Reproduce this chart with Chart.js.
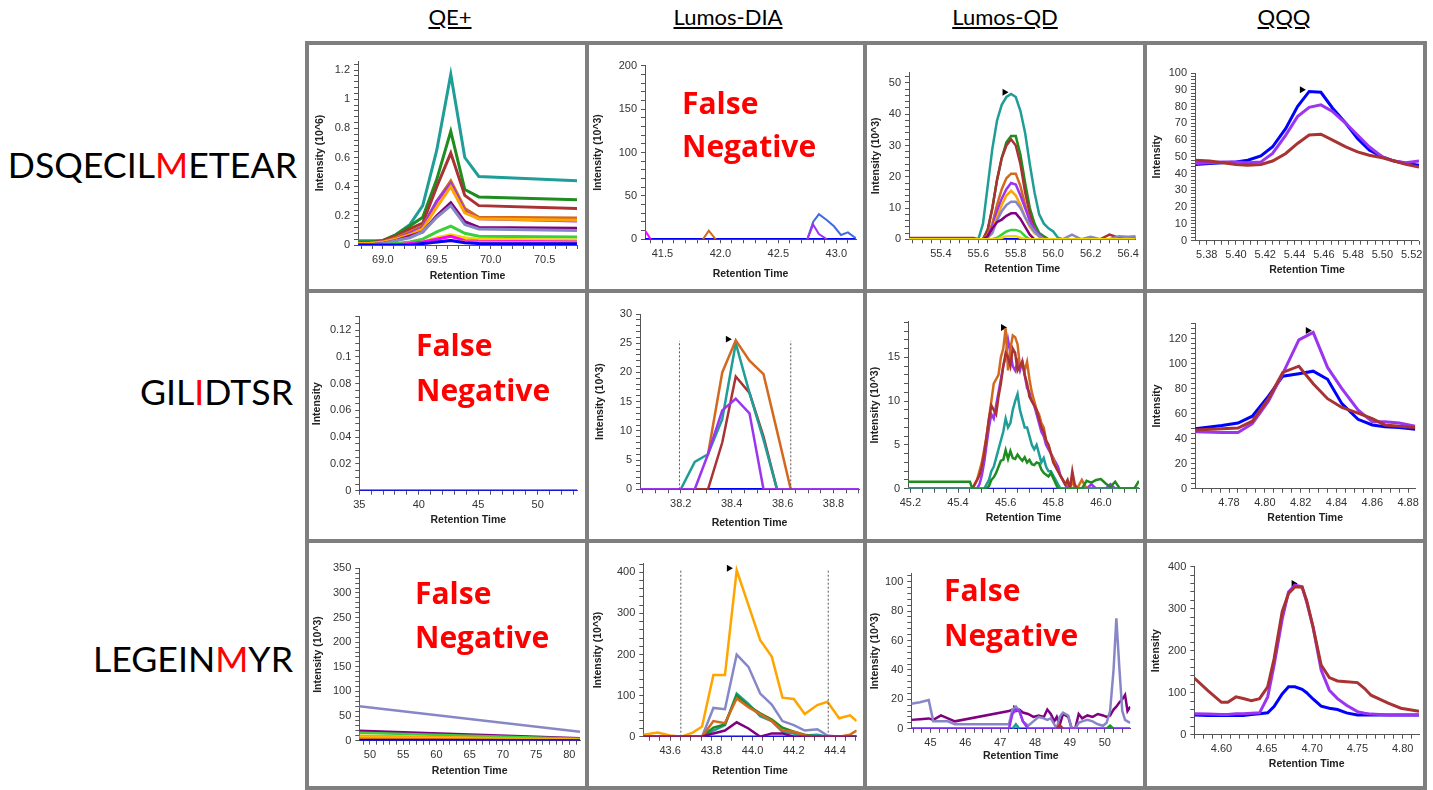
<!DOCTYPE html>
<html>
<head>
<meta charset="utf-8">
<script src="https://cdn.jsdelivr.net/npm/chart.js@4.4.1/dist/chart.umd.min.js"></script>
<style>
body { margin:0; background:#fff; width:1433px; height:790px; position:relative; overflow:hidden; font-family:Lato, sans-serif; }
.gl { position:absolute; background:#7f7f7f; }
.hd { position:absolute; top:6px; font-size:22px; line-height:1; text-decoration:underline; transform:translateX(-50%); white-space:nowrap; color:#000; }
.rl { position:absolute; font-size:35.7px; line-height:1; white-space:nowrap; transform:translateX(-100%); color:#000; }
.red { color:#f00; }
.fn { position:absolute; font-family:"Open Sans", sans-serif; font-weight:700; font-size:30px; line-height:1; color:#f00; white-space:nowrap; }
canvas { position:absolute; }
</style>
</head>
<body>
<div class="hd" style="left:450px">QE+</div>
<div class="hd" style="left:728px">Lumos-DIA</div>
<div class="hd" style="left:1005px">Lumos-QD</div>
<div class="hd" style="left:1284px">QQQ</div>
<div class="rl" style="left:297px;top:147px">DSQECIL<span class="red">M</span>ETEAR</div>
<div class="rl" style="left:293px;top:374px">GIL<span class="red">I</span>DTSR</div>
<div class="rl" style="left:293px;top:641px">LEGEIN<span class="red">M</span>YR</div>
<script>
// colours used by the chromatogram traces
const TEAL = '#1f9d97', GREEN = '#1e8c1e', BROWN = '#a93232', CHOC = '#d2691e', ORANGE = '#ffa500';
const VIOLET = '#9b35f0', PURPLE = '#800080', LAV = '#8787c8', LIME = '#3ccf3c', YELLOW = '#f2d600';
const MAGENTA = '#ff00ff', BLUE = '#0000ff', ROYAL = '#4169e1', CORAL = '#ff7f50';

// ---- QE+ / DSQECILMETEAR (10^6)
const qe1Time   = [68.77, 68.87, 69.00, 69.12, 69.25, 69.37, 69.50, 69.63, 69.76, 69.89, 70.80];
const qe1Teal   = [0.03, 0.03, 0.03, 0.07, 0.14, 0.27, 0.65, 1.17, 0.60, 0.47, 0.44];
const qe1Green  = [0.02, 0.02, 0.03, 0.07, 0.13, 0.19, 0.45, 0.78, 0.38, 0.33, 0.31];
const qe1Brown  = [0.01, 0.01, 0.03, 0.06, 0.11, 0.15, 0.40, 0.63, 0.34, 0.27, 0.25];
const qe1Choc   = [0.01, 0.01, 0.02, 0.05, 0.09, 0.13, 0.30, 0.44, 0.25, 0.19, 0.185];
const qe1Orange = [0.01, 0.01, 0.02, 0.04, 0.07, 0.11, 0.26, 0.40, 0.22, 0.18, 0.17];
const qe1Violet = [0.01, 0.01, 0.02, 0.04, 0.08, 0.12, 0.30, 0.42, 0.23, 0.18, 0.165];
const qe1Purple = [0.0, 0.0, 0.01, 0.03, 0.06, 0.09, 0.20, 0.29, 0.16, 0.12, 0.115];
const qe1Lav    = [0.0, 0.0, 0.01, 0.03, 0.05, 0.09, 0.19, 0.27, 0.14, 0.11, 0.10];
const qe1Lime   = [0, 0, 0, 0.01, 0.02, 0.04, 0.09, 0.13, 0.08, 0.06, 0.055];
const qe1Yellow = [0, 0, 0, 0, 0.01, 0.02, 0.05, 0.07, 0.05, 0.04, 0.035];
const qe1Magenta= [0, 0, 0, 0, 0.01, 0.02, 0.04, 0.06, 0.03, 0.025, 0.02];
const qe1Coral  = [0, 0, 0, 0, 0, 0.01, 0.02, 0.03, 0.02, 0.02, 0.015];
const qe1Blue   = [0, 0, 0, 0, 0, 0.01, 0.02, 0.03, 0.015, 0.01, 0.008];
const qe1XTicks = ['69.0', '69.5', '70.0', '70.5'];
const qe1YTicks = ['0', '0.2', '0.4', '0.6', '0.8', '1', '1.2'];

// ---- Lumos-DIA / DSQECILMETEAR (10^3)
const dia1Time    = [41.35, 41.40, 41.85, 41.90, 41.96, 42.75, 42.80, 42.85, 42.92, 42.98, 43.04, 43.10, 43.16, 43.17];
const dia1Magenta = [10, 0, null, null, null, null, null, null, null, null, null, null, null, null];
const dia1Choc    = [null, null, 0, 10, 0, null, null, null, null, null, null, null, null, null];
const dia1Violet  = [null, null, null, null, null, 0, 17, 6, 0, null, null, null, null, null];
const dia1Royal   = [null, null, null, null, null, 0, 20, 29, 22, 15, 5, 8, 2, 1];
const dia1Base    = [0, 0, 0, 0, 0, 0, 0, 0, 0, 0, 0, 0, 0, 0];
const dia1XTicks  = ['41.5', '42.0', '42.5', '43.0'];
const dia1YTicks  = ['0', '50', '100', '150', '200'];

// ---- Lumos-QD / DSQECILMETEAR (10^3)
const qd1Time   = [55.23, 55.575, 55.60, 55.625, 55.65, 55.675, 55.70, 55.725, 55.75, 55.775, 55.80, 55.825, 55.85, 55.875, 55.90, 55.925, 55.95, 55.975, 56.00, 56.025, 56.05, 56.10, 56.15, 56.20, 56.25, 56.30, 56.35, 56.40, 56.44];
const qd1Teal   = [0, 0, 0, 5, 17, 29, 38, 43, 45.5, 46.5, 45.5, 41, 34, 24, 15, 8, 5, 3.5, 2.5, 0.5, 0, 0, 0, 0, 0, 0, 0, 0, 0];
const qd1Green  = [0, 0, 0, 0, 3, 10, 19, 26, 31, 33, 33, 27, 18, 10, 5, 2, 1, 0, 0, 0, 0, 0, 0, 0, 0, 0, 0, 0, 0.8];
const qd1Brown  = [0.4, 0.4, 0, 0, 3, 10, 19, 26, 30, 32, 30, 24, 15, 8, 3, 1, 0, 0, 0, 0, 0, 0, 0, 0, 0, 1.5, 0.5, 0, 0];
const qd1Choc   = [0, 0, 0, 0, 1.5, 5, 11, 16, 19.5, 21, 21, 17, 11, 6, 3, 1, 0, 0, 0, 0, 0, 0, 0, 0, 0, 0, 0, 0, 0];
const qd1Violet = [0, 0, 0, 0, 1, 4, 9, 13, 16, 18, 17.5, 14, 10, 6, 3, 1.5, 0, 0, 0, 0, 0, 0, 0, 0, 0, 0, 0, 0, 0];
const qd1Orange = [0, 0, 0, 0, 1, 3, 7, 11, 14, 15.5, 14, 11, 7, 4, 2, 1, 0, 0, 0, 0, 0, 0, 0, 0, 0, 0, 0, 0, 0];
const qd1Lav    = [0, 0, 0, 0, 0.5, 2, 6, 9, 11, 12, 12, 10, 7, 4.5, 2.5, 1, 0, 0, 0, 0, 0, 1.5, 0, 0.8, 0, 0, 1, 0.8, 1];
const qd1Purple = [0, 0, 0, 0, 1, 3.5, 5.5, 6.3, 7.5, 8.3, 8.3, 6.5, 4, 1.5, 0, 0, 0, 0, 0, 0, 0, 0, 0, 0, 0, 0, 0, 0, 0];
const qd1Lime   = [0, 0, 0, 0, 0, 0, 0.5, 1.5, 2.5, 3, 3, 2.5, 1, 0, 0, 0, 0, 0, 0, 0, 0, 0, 0, 0, 0, 0, 0, 0, 0];
const qd1Yellow = [0, 0, 0, 0, 0, 0, 0, 0.5, 1, 1, 1, 0.5, 0, 0, 0, 0, 0, 0, 0, 0, 0, 0, 0, 0, 0, 0, 0, 0, 0];
const qd1BaseTime = [55.23, 56.44];
const qd1Base   = [0, 0];
const qd1Peak   = [55.74, 47];
const qd1XTicks = ['55.4', '55.6', '55.8', '56.0', '56.2', '56.4'];
const qd1YTicks = ['0', '10', '20', '30', '40', '50'];

// ---- QQQ / DSQECILMETEAR
const qqq1Time   = [5.372, 5.382, 5.391, 5.400, 5.408, 5.417, 5.425, 5.434, 5.442, 5.450, 5.458, 5.466, 5.475, 5.483, 5.491, 5.500, 5.508, 5.516, 5.525];
const qqq1Blue   = [45.5, 46, 46.5, 47, 48, 50.5, 56, 67, 80, 89, 88.5, 79, 70, 61, 54, 50, 47.5, 46, 45];
const qqq1Violet = [46, 46.5, 47, 47, 46.5, 47, 52, 63, 74, 79.5, 81, 77, 70, 63, 56, 50, 47.5, 46.5, 47.5];
const qqq1Brown  = [48, 47.5, 46.5, 45.5, 45, 45.5, 47.5, 52, 58, 63, 63.5, 60, 56, 53, 51, 49.5, 47.5, 45.5, 44];
const qqq1Peak   = [5.445, 90];
const qqq1XTicks = ['5.38', '5.40', '5.42', '5.44', '5.46', '5.48', '5.50', '5.52'];
const qqq1YTicks = ['0', '10', '20', '30', '40', '50', '60', '70', '80', '90', '100'];

// ---- QE+ / GILIDTSR
const qe2Time   = [35, 53.33];
const qe2Blue   = [0, 0];
const qe2XTicks = ['35', '40', '45', '50'];
const qe2YTicks = ['0', '0.02', '0.04', '0.06', '0.08', '0.1', '0.12'];

// ---- Lumos-DIA / GILIDTSR (10^3)
const dia2Time   = [38.04, 38.20, 38.255, 38.307, 38.363, 38.416, 38.47, 38.525, 38.578, 38.632, 38.90];
const dia2Teal   = [0, 0, 4.7, 6, 12, 25, 16.5, 8.5, 0, 0, 0];
const dia2Brown  = [0, 0, 0, 0, 8, 19.3, 16.5, 9, 0, 0, 0];
const dia2Choc   = [null, null, null, 6, 20, 25.5, 22, 19.7, 10, 0, 0];
const dia2Violet = [0, 0, 0, 6, 13.5, 15.5, 13, 0, 0, 0, 0];
const dia2Base   = [0, 0, 0, 0, 0, 0, 0, 0, 0, 0, 0];
const dia2Bounds = [38.195, 38.632];
const dia2BoundY = [0, 25.4];
const dia2Peak   = [38.385, 25.7];
const dia2XTicks = ['38.2', '38.4', '38.6', '38.8'];
const dia2YTicks = ['0', '5', '10', '15', '20', '25', '30'];

// ---- Lumos-QD / GILIDTSR (10^3)
const qd2Time = [45.19, 45.45, 45.46, 45.47, 45.48, 45.49, 45.50, 45.51, 45.52, 45.53, 45.54, 45.55, 45.56, 45.57, 45.58, 45.59, 45.60, 45.61, 45.62, 45.63,
                 45.64, 45.65, 45.66, 45.67, 45.68, 45.69, 45.70, 45.71, 45.72, 45.73, 45.74, 45.75, 45.76, 45.77, 45.78, 45.79, 45.80, 45.81, 45.82, 45.83,
                 45.84, 45.85, 45.86, 45.87, 45.88, 45.89, 45.90, 45.92, 45.94, 45.96, 45.98, 46.00, 46.02, 46.04, 46.06, 46.08, 46.10, 46.12, 46.14, 46.16];
const qd2Choc   = [0, 0, 0, 0.5, 1, 2, 3, 4.5, 6, 8, 10, 12, 12.5, 13, 15, 16, 18.3, 13.5, 16, 17.5,
                   17.3, 16.5, 14, 14.5, 13.5, 14.5, 12.5, 11, 10, 9, 8.5, 7.5, 7, 5.5, 5, 4, 3.5, 2.5, 2, 1.5,
                   1, 0.5, 0.5, 0, 1, 0, 0, 1, 0, 0, 0, 0, 0, 0, 0, 0, 0, 0, 0, 0];
const qd2Brown  = [0, 0, 0, 0.5, 1, 1.5, 2.5, 4, 6, 8, 9.5, 9, 8.5, 10.5, 12, 14, 15.5, 15, 14, 16,
                   15.5, 13.5, 14, 14.5, 13, 12, 10.5, 10, 9.5, 9, 8, 7, 6.5, 5.5, 5, 4, 3, 2.5, 2, 1.5,
                   1, 0.5, 1, 0, 2, 0.5, 0, 0, 0, 0, 0, 0, 0, 0, 0, 0, 0, 0, 0, 0];
const qd2Violet = [0, 0, 0, 0, 0, 0.5, 1.5, 3, 5, 7, 8.5, 8, 9.5, 11, 12.5, 14, 15, 17, 15.5, 14,
                   13.5, 14.5, 13.5, 14.5, 13, 11.5, 11, 10, 9.5, 8.5, 7.5, 6.5, 6, 5, 4.5, 4, 3.5, 3, 2.5, 1.5,
                   1, 0.5, 0, 0, 0, 0, 0, 0, 0, 0.5, 0, 0, 0, 0.5, 0, 0, 0, 0, 0, 0];
const qd2Teal   = [0, 0, 0, 0, 0, 0, 0, 0, 0.5, 1, 2, 2.5, 3.5, 4.5, 5.5, 6.5, 8, 7, 7.5, 9,
                   10, 10.8, 9, 8, 7, 7, 6, 5, 4.5, 5, 4, 3, 3.5, 2.5, 2, 2, 1.5, 1, 0.5, 0,
                   0, 0, 0, 0, 0, 0, 0, 0, 0, 0, 0, 0, 0, 0, 0, 0, 0, 0, 0, 0];
const qd2Green  = [0.8, 0.8, 0, 0, 0, 0, 0, 0, 0, 0.3, 1, 1.3, 1.8, 2.5, 3.2, 3.3, 4.4, 3.4, 4.3, 3.5,
                   3.4, 3.9, 3.5, 3.2, 3.6, 3.0, 3.3, 2.8, 2.7, 3.0, 2.9, 2.2, 1.8, 1.6, 1.4, 1.8, 1.2, 0.6, 0, 0,
                   0, 0, 0, 0, 0, 0, 0, 0, 0.9, 0.7, 1.0, 1.1, 0.6, 0.2, 0.8, 0, 0, 0, 0, 0.9];
const qd2BaseTime = [45.19, 46.16];
const qd2Base   = [0, 0];
const qd2Peak   = [45.589, 18.4];
const qd2XTicks = ['45.2', '45.4', '45.6', '45.8', '46.0'];
const qd2YTicks = ['0', '5', '10', '15'];

// ---- QQQ / GILIDTSR
const qqq2Time   = [4.761, 4.776, 4.785, 4.793, 4.802, 4.810, 4.819, 4.827, 4.835, 4.843, 4.852, 4.860, 4.867, 4.875, 4.884];
const qqq2Blue   = [48, 50.5, 52.5, 58, 74, 90, 92, 94, 87.5, 68, 55.5, 51, 49.5, 49, 47.5];
const qqq2Violet = [45.5, 45, 45, 52, 70, 92, 119, 125, 97, 80, 63, 53.5, 53.5, 52.5, 50];
const qqq2Brown  = [47, 48, 48.5, 54, 72, 93, 98, 84, 72, 65, 60.5, 56, 51, 50, 49];
const qqq2Peak   = [4.824, 126.5];
const qqq2XTicks = ['4.78', '4.80', '4.82', '4.84', '4.86', '4.88'];
const qqq2YTicks = ['0', '20', '40', '60', '80', '100', '120'];

// ---- QE+ / LEGEINMYR (10^3)
const qe3Time   = [48.4, 81.6];
const qe3Lav    = [70, 18];
const qe3Purple = [20, 5];
const qe3Lime   = [16, 4];
const qe3Orange = [10, 2.5];
const qe3Yellow = [6, 1.5];
const qe3Choc   = [4, 1];
const qe3Blue   = [1, 0.5];
const qe3XTicks = ['50', '55', '60', '65', '70', '75', '80'];
const qe3YTicks = ['0', '50', '100', '150', '200', '250', '300', '350'];

// ---- Lumos-DIA / LEGEINMYR (10^3)
const dia3Time   = [43.47, 43.54, 43.60, 43.655, 43.71, 43.755, 43.81, 43.866, 43.923, 43.98, 44.037, 44.093, 44.145, 44.20, 44.253, 44.314, 44.363, 44.42, 44.473, 44.505];
const dia3Orange = [5, 10, 3, 0, 10, 25, 150, 150, 405, 320, 235, 195, 95, 92, 55, 77, 85, 45, 52, 38];
const dia3Lav    = [0, 0, 0, 0, 0, 0, 70, 67, 200, 170, 105, 78, 38, 28, 15, 18, 3, 0, 0, 0];
const dia3Teal   = [0, 0, 0, 0, 0, 0, 15, 28, 105, 80, 50, 38, 12, 8, 3, 5, 0, 0, 0, 0];
const dia3Green  = [0, 0, 0, 0, 0, 0, 22, 30, 100, 75, 57, 42, 22, 12, 5, 0, 0, 0, 0, 0];
const dia3Choc   = [0, 0, 0, 0, 0, 0, 38, 33, 93, 72, 55, 38, 15, 12, 3, 0, 0, 0, 5, 15];
const dia3Purple = [0, 0, 0, 0, 0, 0, 8, 15, 35, 20, 0, 8, 8, 0, 0, 0, 0, 0, 0, 0];
const dia3BaseTime = [43.47, 44.505];
const dia3Base   = [0, 0];
const dia3Bounds = [43.652, 44.367];
const dia3BoundY = [0, 405];
const dia3Peak   = [43.885, 410];
const dia3XTicks = ['43.6', '43.8', '44.0', '44.2', '44.4'];
const dia3YTicks = ['0', '100', '200', '300', '400'];

// ---- Lumos-QD / LEGEINMYR (10^3)
const qd3Time   = [44.45, 44.70, 44.95, 45.08, 45.30, 45.50, 45.70, 47.25, 47.35, 47.45, 47.55, 47.65, 47.80, 47.95, 48.10, 48.25, 48.35, 48.45, 48.55, 48.62,
                   48.70, 48.80, 48.95, 49.05, 49.15, 49.25, 49.35, 49.50, 49.65, 49.80, 49.95, 50.05, 50.15, 50.25, 50.33, 50.42, 50.50, 50.58, 50.65, 50.73];
const qd3Lav    = [17, 18, 19.5, 5, 5, 5, 3, 3, 13, 15, 12, 5, 2, 5, 8, 7, 6, 7, 3, 0,
                   8, 11, 9, 0, 0, 4, 5, 6, 5, 3, 2, 4, 12, 40, 75, 40, 12, 6, 5, 4];
const qd3Purple = [6, 6.5, 7, 6, 9, 7, 5, 12, 13, 12, 13, 11, 10, 8, 9, 8, 13, 10, 5, 8,
                   2, 10, 8, 0, 0, 10, 7, 9, 8, 10, 9, 8, 9, 13, 15, 18, 20, 23, 12, 15];
const qd3Violet = [0, 0, 0, 0, 0, 0, 0, 0, 10, 13, 12, 5, 0, 0, 0, 0, 0, 0, 0, 0,
                   0, 0, 0, 0, 0, 0, 0, 0, 0, 0, 0, 0, 0, 0, 0, 0, 0, 0, 0, 0];
const qd3BumpTime = [47.35, 47.45, 47.55, 48.62, 48.70, 48.80, 50.05, 50.15, 50.25];
const qd3Teal   = [0, 3, 0, null, null, null, null, null, null];
const qd3Brown  = [null, null, null, 0, 2.5, 0, null, null, null];
const qd3Green  = [null, null, null, null, null, null, 0, 2, 0];
const qd3BaseTime = [44.45, 50.73];
const qd3Base   = [0, 0];
const qd3Peak   = [47.43, 13.8];
const qd3XTicks = ['45', '46', '47', '48', '49', '50'];
const qd3YTicks = ['0', '20', '40', '60', '80', '100'];

// ---- QQQ / LEGEINMYR
const qqq3Time   = [4.570, 4.585, 4.600, 4.607, 4.616, 4.624, 4.633, 4.642, 4.651, 4.658, 4.667, 4.674, 4.681, 4.689, 4.694, 4.701, 4.710, 4.719, 4.728, 4.738, 4.750, 4.758, 4.765, 4.784, 4.798, 4.818];
const qqq3Brown  = [135, 105, 77, 77, 90, 86, 81, 86, 114, 180, 293, 336, 352, 351, 320, 257, 166, 136, 128, 126, 124, 110, 94, 75, 63, 56];
const qqq3Violet = [50, 49, 48, 48, 50, 50, 51, 52, 90, 165, 275, 340, 356, 352, 316, 257, 154, 106, 86, 70, 55, 51, 49, 47, 47, 47];
const qqq3Blue   = [47, 46, 46, 46, 46, 46, 48, 50, 52, 67, 97, 114, 114, 108, 100, 85, 68, 63, 60, 52, 47, 47, 47, 47, 47, 47];
const qqq3Peak   = [4.6796, 360];
const qqq3XTicks = ['4.60', '4.65', '4.70', '4.75', '4.80'];
const qqq3YTicks = ['0', '100', '200', '300', '400'];

// grid of the figure (page pixels)
const gridX = [307, 587, 865, 1145, 1425];
const gridY = [43, 291, 541, 788];

function s(t, v, color, w, dash) { return { t: t, v: v, color: color, w: w, dash: dash }; }
function bounds(xsList, yPair) { return xsList.map(b => s([b, b], yPair, '#555', 1, [2, 2])); }

const I3 = 'Intensity (10^3)';
const panels = [
  { c: 0, r: 0, box: [358, 577, 61, 245], x: [68.77, 70.8], yMax: 1.262, xt: qe1XTicks, yt: qe1YTicks, xn: 5, yn: 5, title: 'Intensity (10^6)', ytx: 320, xty: 276,
    lines: [s(qe1Time, qe1Blue, BLUE, 3), s(qe1Time, qe1Coral, CORAL, 3), s(qe1Time, qe1Magenta, MAGENTA, 3), s(qe1Time, qe1Yellow, YELLOW, 3), s(qe1Time, qe1Lime, LIME, 3),
            s(qe1Time, qe1Lav, LAV, 3), s(qe1Time, qe1Purple, PURPLE, 3), s(qe1Time, qe1Orange, ORANGE, 3), s(qe1Time, qe1Violet, VIOLET, 3), s(qe1Time, qe1Choc, CHOC, 3),
            s(qe1Time, qe1Brown, BROWN, 3), s(qe1Time, qe1Green, GREEN, 3), s(qe1Time, qe1Teal, TEAL, 3)] },
  { c: 1, r: 0, box: [645, 856, 65.7, 239.3], x: [41.35, 43.17], yMax: 200, xt: dia1XTicks, yt: dia1YTicks, xn: 5, yn: 5, title: I3, ytx: 598, xty: 274,
    lines: [s(dia1Time, dia1Magenta, MAGENTA, 2), s(dia1Time, dia1Choc, CHOC, 2), s(dia1Time, dia1Violet, VIOLET, 2), s(dia1Time, dia1Royal, ROYAL, 2), s(dia1Time, dia1Base, BLUE, 2.5)] },
  { c: 2, r: 0, box: [909, 1141, 72.3, 239.3], x: [55.23, 56.44], yMax: 53.4, xt: qd1XTicks, yt: qd1YTicks, xn: 4, yn: 5, title: I3, ytx: 876, xty: 268.7, peak: qd1Peak,
    lines: [s(qd1Time, qd1Yellow, YELLOW, 2.5), s(qd1Time, qd1Lime, LIME, 2.5), s(qd1Time, qd1Purple, PURPLE, 2.5), s(qd1Time, qd1Lav, LAV, 2.5), s(qd1Time, qd1Orange, ORANGE, 2.5),
            s(qd1Time, qd1Violet, VIOLET, 2.5), s(qd1Time, qd1Choc, CHOC, 2.5), s(qd1Time, qd1Brown, BROWN, 2.5), s(qd1Time, qd1Green, GREEN, 2.5), s(qd1Time, qd1Teal, TEAL, 2.5),
            s(qd1BaseTime, qd1Base, BLUE, 2.5)] },
  { c: 3, r: 0, box: [1195, 1419, 73, 240.7], x: [5.372, 5.525], yMax: 100, xt: qqq1XTicks, yt: qqq1YTicks, xn: 4, yn: 5, title: 'Intensity', ytx: 1156.7, xty: 270.3, peak: qqq1Peak,
    lines: [s(qqq1Time, qqq1Brown, BROWN, 3), s(qqq1Time, qqq1Violet, VIOLET, 3), s(qqq1Time, qqq1Blue, BLUE, 3)] },

  { c: 0, r: 1, box: [359.3, 577.3, 316.7, 490.7], x: [35, 53.33], yMax: 0.13, xt: qe2XTicks, yt: qe2YTicks, xn: 5, yn: 4, title: 'Intensity', ytx: 316.7, xty: 520,
    lines: [s(qe2Time, qe2Blue, BLUE, 2.5)] },
  { c: 1, r: 1, box: [640, 860, 314, 489.3], x: [38.04, 38.9], yMax: 30, xt: dia2XTicks, yt: dia2YTicks, xn: 4, yn: 5, title: I3, ytx: 600, xty: 523.3, peak: dia2Peak,
    lines: bounds(dia2Bounds, dia2BoundY).concat([s(dia2Time, dia2Violet, VIOLET, 2.5), s(dia2Time, dia2Choc, CHOC, 2.5), s(dia2Time, dia2Teal, TEAL, 2.5), s(dia2Time, dia2Brown, BROWN, 2.5),
            s(dia2Time, dia2Base, BLUE, 2.5)]) },
  { c: 2, r: 1, box: [908, 1140.3, 321.7, 488.7], x: [45.19, 46.16], yMax: 19.07, xt: qd2XTicks, yt: qd2YTicks, xn: 4, yn: 5, title: I3, ytx: 875, xty: 517.7, peak: qd2Peak,
    lines: [s(qd2Time, qd2Green, GREEN, 2.5), s(qd2Time, qd2Teal, TEAL, 2.5), s(qd2Time, qd2Brown, BROWN, 2.5), s(qd2Time, qd2Choc, CHOC, 2.5), s(qd2Time, qd2Violet, VIOLET, 2.5),
            s(qd2BaseTime, qd2Base, BLUE, 2)] },
  { c: 3, r: 1, box: [1195, 1418.3, 323.3, 488.7], x: [4.761, 4.884], yMax: 132.3, xt: qqq2XTicks, yt: qqq2YTicks, xn: 4, yn: 5, title: 'Intensity', ytx: 1156.7, xty: 517.7, peak: qqq2Peak,
    lines: [s(qqq2Time, qqq2Brown, BROWN, 3), s(qqq2Time, qqq2Violet, VIOLET, 3), s(qqq2Time, qqq2Blue, BLUE, 3)] },

  { c: 0, r: 2, box: [359.3, 580, 568.3, 740.7], x: [48.4, 81.6], yMax: 350, xt: qe3XTicks, yt: qe3YTicks, xn: 5, yn: 5, title: I3, ytx: 318.3, xty: 770.7,
    lines: [s(qe3Time, qe3Blue, BLUE, 2.5), s(qe3Time, qe3Choc, CHOC, 2.5), s(qe3Time, qe3Yellow, YELLOW, 2.5), s(qe3Time, qe3Orange, ORANGE, 2.5), s(qe3Time, qe3Lime, LIME, 2.5),
            s(qe3Time, qe3Purple, PURPLE, 2.5), s(qe3Time, qe3Lav, LAV, 2.5)] },
  { c: 1, r: 2, box: [643.3, 856.7, 563.3, 736.7], x: [43.47, 44.505], yMax: 422, xt: dia3XTicks, yt: dia3YTicks, xn: 4, yn: 5, title: I3, ytx: 598.3, xty: 770.7, peak: dia3Peak,
    lines: bounds(dia3Bounds, dia3BoundY).concat([s(dia3Time, dia3Purple, PURPLE, 2.5), s(dia3Time, dia3Choc, CHOC, 2.5), s(dia3Time, dia3Green, GREEN, 2.5), s(dia3Time, dia3Teal, TEAL, 2.5),
            s(dia3Time, dia3Lav, LAV, 2.5), s(dia3Time, dia3Orange, ORANGE, 2.5), s(dia3BaseTime, dia3Base, BLUE, 2.5)]) },
  { c: 2, r: 2, box: [911.3, 1130.3, 573.3, 728.7], x: [44.45, 50.73], yMax: 105.7, xt: qd3XTicks, yt: qd3YTicks, xn: 4, yn: 5, title: I3, ytx: 875.3, xty: 755.7, peak: qd3Peak,
    lines: [s(qd3BumpTime, qd3Green, '#10a010', 2.5), s(qd3BumpTime, qd3Brown, BROWN, 2.5), s(qd3BumpTime, qd3Teal, TEAL, 2.5), s(qd3Time, qd3Violet, VIOLET, 2.5),
            s(qd3Time, qd3Lav, LAV, 2.5), s(qd3Time, qd3Purple, PURPLE, 2.5), s(qd3BaseTime, qd3Base, BLUE, 2.5)] },
  { c: 3, r: 2, box: [1194.3, 1420, 566.7, 734.7], x: [4.57, 4.818], yMax: 400, xt: qqq3XTicks, yt: qqq3YTicks, xn: 5, yn: 5, title: 'Intensity', ytx: 1156, xty: 764, peak: qqq3Peak,
    lines: [s(qqq3Time, qqq3Brown, BROWN, 3), s(qqq3Time, qqq3Violet, VIOLET, 3), s(qqq3Time, qqq3Blue, BLUE, 3)] }
];

// "False Negative" notes: [left, cap top of line 1, cap top of line 2]
const notes = [[682, 93, 136.3], [416, 335, 380], [415, 582.7, 627.3], [944, 580, 625]];

Chart.defaults.font.family = '"Liberation Sans", Arial, sans-serif';

// grid lines
for (let i = 0; i < gridX.length; i++) {
  const d = document.createElement('div');
  d.className = 'gl';
  d.style.cssText = 'left:' + (gridX[i] - 2) + 'px;top:' + (gridY[0] - 2) + 'px;width:4px;height:' + (gridY[3] - gridY[0] + 4) + 'px';
  document.body.appendChild(d);
}
for (let j = 0; j < gridY.length; j++) {
  const d = document.createElement('div');
  d.className = 'gl';
  d.style.cssText = 'left:' + (gridX[0] - 2) + 'px;top:' + (gridY[j] - 2) + 'px;height:4px;width:' + (gridX[4] - gridX[0] + 4) + 'px';
  document.body.appendChild(d);
}

// majors come from the label arrays, minors split each interval
function tickList(labels, n, lo, hi) {
  const maj = labels.map(Number);
  const step = (maj[1] - maj[0]) / n;
  const out = [];
  const k0 = Math.ceil((lo - maj[0]) / step - 1e-6);
  const k1 = Math.floor((hi - maj[0]) / step + 1e-6);
  for (let k = k0; k <= k1; k++) out.push({ value: maj[0] + k * step });
  return out;
}
function labelFor(labels) {
  const maj = labels.map(Number);
  const eps = Math.abs(maj[1] - maj[0]) * 1e-3;
  return function (v) {
    const i = maj.findIndex(m => Math.abs(m - v) < eps);
    return i >= 0 ? labels[i] : '';
  };
}

const TICKFONT = { size: 11 };
const TITLEFONT = { size: 10.5, weight: 'bold' };

panels.forEach(function (p) {
  const cx0 = gridX[p.c] + 2, cx1 = gridX[p.c + 1] - 2;
  const cy0 = gridY[p.r] + 2, cy1 = gridY[p.r + 1] - 2;
  const L = p.box[0], R = p.box[1], T = p.box[2], B = p.box[3];
  const cv = document.createElement('canvas');
  cv.width = cx1 - cx0;
  cv.height = cy1 - cy0;
  cv.style.left = cx0 + 'px';
  cv.style.top = cy0 + 'px';
  document.body.appendChild(cv);

  const datasets = p.lines.map(function (l) {
    return {
      data: l.t.map((x, i) => ({ x: x, y: l.v[i] })),
      borderColor: l.color,
      borderWidth: l.w,
      borderDash: l.dash || [],
      pointRadius: 0,
      fill: false,
      tension: 0,
      spanGaps: false
    };
  });
  if (p.peak) {
    datasets.push({
      data: [{ x: p.peak[0], y: p.peak[1] }],
      showLine: false,
      pointStyle: 'triangle',
      rotation: 90,
      pointRadius: 4,
      backgroundColor: '#000',
      borderColor: '#000',
      borderWidth: 0
    });
  }

  new Chart(cv, {
    type: 'line',
    data: { datasets: datasets },
    options: {
      responsive: false,
      animation: false,
      events: [],
      layout: { padding: { left: 0, top: T - cy0, right: cx1 - R, bottom: 0 } },
      plugins: { legend: { display: false }, tooltip: { enabled: false } },
      scales: {
        x: {
          type: 'linear', min: p.x[0], max: p.x[1], bounds: 'data',
          afterBuildTicks: sc => { sc.ticks = tickList(p.xt, p.xn, p.x[0], p.x[1]); },
          afterFit: sc => { sc.height = cy1 - B; },
          ticks: { autoSkip: false, maxRotation: 0, padding: 4, color: '#333', font: TICKFONT, callback: labelFor(p.xt) },
          grid: { drawOnChartArea: false, tickLength: 4, color: '#555' },
          border: { color: '#555', width: 1 },
          title: { display: true, text: 'Retention Time', color: '#222', font: TITLEFONT, padding: { top: 0, bottom: cy1 - 6.3 - p.xty } }
        },
        y: {
          type: 'linear', min: 0, max: p.yMax, bounds: 'data',
          afterBuildTicks: sc => { sc.ticks = tickList(p.yt, p.yn, 0, p.yMax); },
          afterFit: sc => { sc.width = L - cx0; },
          ticks: { autoSkip: false, padding: 4, color: '#333', font: TICKFONT, callback: labelFor(p.yt) },
          grid: { drawOnChartArea: false, tickLength: 4, color: '#555' },
          border: { color: '#555', width: 1 },
          title: { display: true, text: p.title, color: '#222', font: TITLEFONT, padding: { top: p.ytx - cx0 - 6.3, bottom: 0 } }
        }
      }
    }
  });
});

// red overlay notes, drawn above the charts
notes.forEach(function (n) {
  ['False', 'Negative'].forEach(function (w, k) {
    const d = document.createElement('div');
    d.className = 'fn';
    d.textContent = w;
    d.style.left = n[0] + 'px';
    d.style.top = (n[1 + k] - 5.2) + 'px';
    document.body.appendChild(d);
  });
});
</script>
</body>
</html>
